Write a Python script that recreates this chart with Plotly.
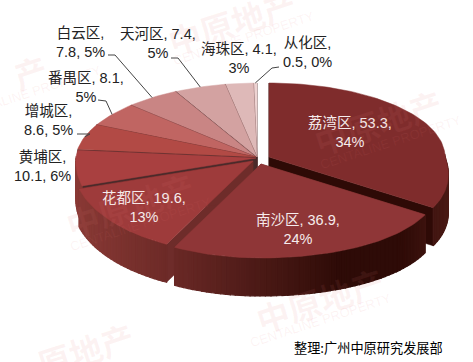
import math
import plotly.graph_objects as go

districts = ["荔湾区", "南沙区", "花都区", "黄埔区", "增城区", "番禺区", "白云区", "天河区", "海珠区", "从化区"]
values = [53.3, 36.9, 19.6, 10.1, 8.6, 8.1, 7.8, 7.4, 4.1, 0.5]
percents = [34, 24, 13, 6, 5, 5, 5, 5, 3, 0]
top_colors = ["#7f2c2c", "#8f3637", "#9e3b3b", "#a94040", "#b24a45", "#c06562", "#c98584", "#d3a2a1", "#deb9b8", "#eed3d2"]
label_breaks = [2, 2, 2, 1, 1, 2, 1, 2, 2, 1]
source_text = "整理:广州中原研究发展部"

# layout of the drawing (pixel space of the 473x362 figure)
CX, CY = 257, 157
RX_LEFT, RX_RIGHT, RY_BACK, RY_FRONT = 180, 176, 74, 94
DEPTH = 38
offsets = [(12, 0), (4, 7), (-4, 4), (-1, 1), (-1, 0), (-1, 0), (-1, 0), (0, 0), (0, 0), (0, 0)]
label_pos = [(350, 132), (298, 229), (144, 207), (42, 166), (48, 120), (86, 87), (80, 42), (158, 43), (239, 58), (307, 52)]
label_col = ["#f6ecec"] * 3 + ["#222222"] * 7
leaders = {4: [(77, 134), (90, 134)], 5: [(98, 100), (106, 101)], 6: [(108, 55), (115, 55)], 7: [(171, 58), (178, 58)], 9: [(279, 67), (272, 68)]}
watermarks = [("中原地产", 232, 22), ("产", 30, 72), ("中原地产", 378, 122), ("中原地产", 320, 300), ("原地产", 85, 350), ("中原地产", 130, 205)]
wm_sub = [(243, 38), (30, 92), (390, 142), (320, 320), None, (140, 224)]


def rim(a, off=(0, 0), drop=0):
    t = math.radians(a)
    c, s = math.cos(t), math.sin(t)
    ry = RY_BACK if c > 0 else RY_FRONT
    if s >= 0:
        rx = RX_RIGHT * (1 - 0.2 * c) if c < 0 else RX_RIGHT
    else:
        rx = RX_LEFT * (1 - 0.04 * c)
    return CX + off[0] + rx * s, CY + off[1] - ry * c + drop


def mix(c1, c2, f):
    a = [int(c1[i:i + 2], 16) for i in (1, 3, 5)]
    b = [int(c2[i:i + 2], 16) for i in (1, 3, 5)]
    return "rgb(%d,%d,%d)" % tuple(a[i] + (b[i] - a[i]) * f for i in range(3))


def side_color(x):
    stops = [(75, "#8a3a36"), (170, "#6c2a27"), (340, "#2e0b07"), (400, "#2e0b07"), (450, "#4c1b16")]
    for (x0, c0), (x1, c1) in zip(stops, stops[1:]):
        if x <= x1:
            return mix(c0, c1, max(0, (x - x0) / (x1 - x0)))
    return stops[-1][1]


def poly(fig, pts, color, width=0.5):
    fig.add_trace(go.Scatter(x=[p[0] for p in pts] + [pts[0][0]], y=[p[1] for p in pts] + [pts[0][1]],
                             mode="lines", fill="toself", fillcolor=color,
                             line=dict(color=color, width=width), hoverinfo="skip", showlegend=False))


fig = go.Figure()
total = sum(values)
edges = [0]
for v in values:
    edges.append(edges[-1] + v / total * 360)

order = sorted(range(len(values)), key=lambda i: -math.cos(math.radians((edges[i] + edges[i + 1]) / 2)))
wall_colors = {0: "#2e0a06", 1: "#6e2c2a", 2: "#6e2c2a"}
for i in order:
    a0, a1 = edges[i], edges[i + 1]
    off = offsets[i]
    apex = (CX + off[0], CY + off[1])
    apex_d = (apex[0], apex[1] + DEPTH)
    wall = wall_colors.get(i, "#4a2a2a")
    for a in (a0, a1):
        poly(fig, [apex, rim(a, off), rim(a, off, DEPTH), apex_d], wall)
    n = max(2, int((a1 - a0) / 1.5))
    arc = [a0 + (a1 - a0) * k / n for k in range(n + 1)]
    side_pairs = [(p, q) for p, q in zip(arc, arc[1:]) if 88 < (p + q) / 2 < 272]
    for p, q in side_pairs:
        x0, y0 = rim(p, off)
        x1, y1 = rim(q, off)
        poly(fig, [(x0, y0), (x1, y1), (x1, y1 + DEPTH), (x0, y0 + DEPTH)], side_color((x0 + x1) / 2), width=1.2)
    poly(fig, [apex] + [rim(a, off) for a in arc], top_colors[i])

shapes = []
for i, pts in leaders.items():
    end = rim((edges[i] + edges[i + 1]) / 2, offsets[i])
    path = pts + [end]
    for (x0, y0), (x1, y1) in zip(path, path[1:]):
        shapes.append(dict(type="line", x0=x0, y0=y0, x1=x1, y1=y1, line=dict(color="#444444", width=1)))

FONT = "Liberation Sans, Noto Sans CJK SC, sans-serif"
ann = []
for i, d in enumerate(districts):
    if label_breaks[i] == 1:
        txt = f"{d},<br>{values[i]}, {percents[i]}%"
    else:
        txt = f"{d}, {values[i]},<br>{percents[i]}%"
    ann.append(dict(x=label_pos[i][0], y=label_pos[i][1], text=txt, showarrow=False, xanchor="center", yanchor="middle",
                    align="center", font=dict(family=FONT, size=14.5, color=label_col[i])))
ann.append(dict(x=445, y=347, text=source_text, showarrow=False, xanchor="right", yanchor="middle",
                font=dict(family="Noto Sans CJK SC, sans-serif", size=13.2, color="#000000")))

WM = "rgba(225,120,120,0.09)"
for (txt, x, y), sub in zip(watermarks, wm_sub):
    ann.append(dict(x=x, y=y, text=f"<b>{txt}</b>", textangle=-18, showarrow=False,
                    font=dict(family="Noto Sans CJK SC, sans-serif", size=33, color=WM)))
    if sub:
        ann.append(dict(x=sub[0], y=sub[1], text="CENTALINE PROPERTY", textangle=-18, showarrow=False,
                        font=dict(family="Liberation Sans, sans-serif", size=13, color=WM)))

fig.update_layout(
    width=473, height=362, margin=dict(l=0, r=0, t=0, b=0), autosize=False,
    paper_bgcolor="white", plot_bgcolor="white", showlegend=False,
    xaxis=dict(range=[0, 473], visible=False, fixedrange=True),
    yaxis=dict(range=[362, 0], visible=False, fixedrange=True),
    shapes=shapes, annotations=ann,
)
fig.write_html("out.html", config={"displayModeBar": False},
               post_script="document.body.style.margin='0';document.documentElement.style.overflow='hidden';")
